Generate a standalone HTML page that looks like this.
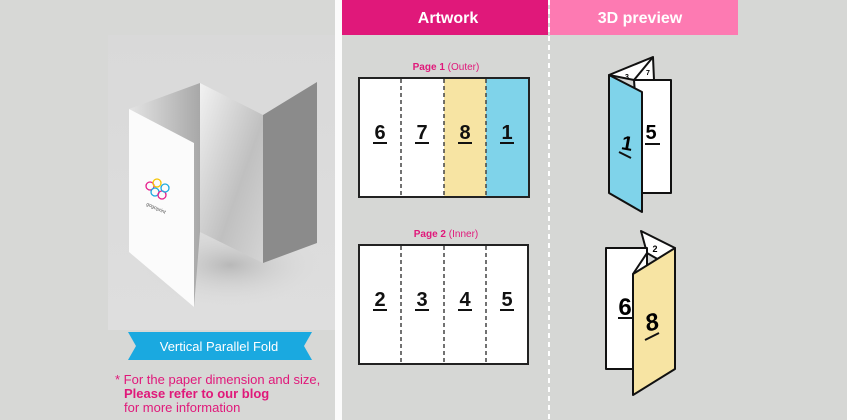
<!DOCTYPE html>
<html><head><meta charset="utf-8"><style>
body{margin:0;width:847px;height:420px;overflow:hidden;background:#d6d7d5;font-family:"Liberation Sans",sans-serif}
</style></head><body>
<svg width="847" height="420" viewBox="0 0 847 420" xmlns="http://www.w3.org/2000/svg" style="position:absolute;left:0;top:0">
<defs>
<linearGradient id="ph" x1="0" y1="0" x2="0" y2="1"><stop offset="0" stop-color="#d9d9d9"/><stop offset="1" stop-color="#dedede"/></linearGradient>
<linearGradient id="mid" x1="0" y1="0" x2="1" y2="1"><stop offset="0" stop-color="#f2f2f2"/><stop offset="0.6" stop-color="#c0c0c0"/><stop offset="1" stop-color="#d4d4d4"/></linearGradient>
<linearGradient id="back" x1="0" y1="0" x2="1" y2="0"><stop offset="0" stop-color="#e4e4e4"/><stop offset="1" stop-color="#a8a8a8"/></linearGradient>
<radialGradient id="sh" cx="0.5" cy="0.5" r="0.5"><stop offset="0" stop-color="#b8b8b8"/><stop offset="1" stop-color="#dadada" stop-opacity="0"/></radialGradient>
</defs>
<rect x="0" y="0" width="335" height="420" fill="#d7d8d6"/>
<rect x="108" y="35" width="227" height="295" fill="url(#ph)"/>
<ellipse cx="230" cy="265" rx="90" ry="40" fill="url(#sh)"/>
<polygon points="200,83 263,115 263,263 200,232" fill="url(#mid)"/>
<polygon points="129,109 200,83 200,232 194,307" fill="url(#back)"/>
<polygon points="263,115 317,82 317,243 263,263" fill="#8b8b8b"/>
<polygon points="129,109 194,143 194,307 129,252" fill="#fbfbfb"/>
<g stroke="#111" stroke-width="1.3" fill="none">
<circle cx="150" cy="186" r="4" stroke="#e61c8c"/><circle cx="157" cy="183" r="4" stroke="#f5c400"/>
<circle cx="155" cy="192" r="4" stroke="#1aa9e0"/><circle cx="162" cy="195" r="4" stroke="#e61c8c"/><circle cx="165" cy="188" r="4" stroke="#1aa9e0"/>
</g>
<text x="146" y="205" font-size="5" fill="#555" transform="rotate(25 146 205)">gogoprint</text>
<polygon points="128,332 312,332 304,346 312,360 128,360 136,346" fill="#1aa9e0"/>
<text x="219" y="351" font-size="13" fill="#fff" text-anchor="middle">Vertical Parallel Fold</text>
<text x="115" y="384" font-size="13" fill="#e0187a">* For the paper dimension and size,</text>
<text x="124" y="398" font-size="13" font-weight="bold" fill="#e0187a">Please refer to our blog</text>
<text x="124" y="412" font-size="13" fill="#e0187a">for more information</text>
<rect x="335" y="0" width="7" height="420" fill="#fbfbfb"/>
<rect x="342" y="0" width="206" height="35" fill="#e0187a"/>
<rect x="550" y="0" width="188" height="35" fill="#fd7ab2"/>
<text x="448" y="23" font-size="16" font-weight="bold" fill="#fff" text-anchor="middle">Artwork</text>
<text x="640" y="23" font-size="16" font-weight="bold" fill="#fff" text-anchor="middle">3D preview</text>
<line x1="549" y1="0" x2="549" y2="420" stroke="#fff" stroke-width="2" stroke-dasharray="5,4"/>
<text x="446" y="70" font-size="10" font-weight="bold" fill="#e0187a" text-anchor="middle">Page 1 <tspan font-weight="normal">(Outer)</tspan></text>
<rect x="359" y="78" width="170" height="119" fill="#fff"/>
<rect x="444" y="78" width="42" height="119" fill="#f7e4a3"/>
<rect x="486" y="78" width="43" height="119" fill="#7fd3ea"/>
<rect x="359" y="78" width="170" height="119" fill="none" stroke="#222" stroke-width="2"/>
<g stroke="#444" stroke-width="1.5" stroke-dasharray="4,3">
<line x1="401" y1="79" x2="401" y2="196"/><line x1="444" y1="79" x2="444" y2="196"/><line x1="486" y1="79" x2="486" y2="196"/>
</g>
<text x="446" y="237" font-size="10" font-weight="bold" fill="#e0187a" text-anchor="middle">Page 2 <tspan font-weight="normal">(Inner)</tspan></text>
<rect x="359" y="245" width="169" height="119" fill="#fff" stroke="#222" stroke-width="2"/>
<g stroke="#444" stroke-width="1.5" stroke-dasharray="4,3">
<line x1="401" y1="246" x2="401" y2="363"/><line x1="444" y1="246" x2="444" y2="363"/><line x1="486" y1="246" x2="486" y2="363"/>
</g>
<g font-size="20" font-weight="bold" fill="#111" text-anchor="middle">
<text x="380" y="139">6</text><text x="422" y="139">7</text><text x="465" y="139">8</text><text x="507" y="139">1</text>
<text x="380" y="306">2</text><text x="422" y="306">3</text><text x="465" y="306">4</text><text x="507" y="306">5</text>
</g>
<g stroke="#111" stroke-width="2">
<line x1="373" y1="143" x2="387" y2="143"/><line x1="415" y1="143" x2="429" y2="143"/><line x1="458" y1="143" x2="472" y2="143"/><line x1="500" y1="143" x2="514" y2="143"/>
<line x1="373" y1="310" x2="387" y2="310"/><line x1="415" y1="310" x2="429" y2="310"/><line x1="458" y1="310" x2="472" y2="310"/><line x1="500" y1="310" x2="514" y2="310"/>
</g>
<g stroke="#111" stroke-width="2" stroke-linejoin="round">
<polygon points="609,75 653,57 654,80 634,80" fill="#fff"/>
<polygon points="634,80 671,80 671,193 642,193" fill="#fff"/>
<polygon points="609,75 642,92 642,212 609,193" fill="#7fd3ea"/>
<line x1="634" y1="80" x2="653" y2="57"/>
</g>
<text x="627" y="79" font-size="7" font-weight="bold" text-anchor="middle">3</text>
<text x="648" y="75" font-size="7" font-weight="bold" text-anchor="middle">7</text>
<text x="651" y="139" font-size="20" font-weight="bold" text-anchor="middle">5</text>
<line x1="645" y1="144" x2="660" y2="144" stroke="#111" stroke-width="2"/>
<text x="626" y="150" font-size="20" font-weight="bold" text-anchor="middle" transform="rotate(10 626 150)">1</text>
<line x1="619" y1="152" x2="631" y2="158" stroke="#111" stroke-width="2"/>
<g stroke="#111" stroke-width="2" stroke-linejoin="round">
<polygon points="641,231 675,248 673,268 647,253" fill="#fff"/>
<polygon points="606,248 647,248 647,369 606,369" fill="#fff"/>
<polygon points="633,274 675,248 675,369 633,395" fill="#f7e4a3"/>
<polyline points="633,274 647,253 647,260" fill="none"/>
</g>
<text x="655" y="252" font-size="9" font-weight="bold" text-anchor="middle">2</text>
<text x="625" y="315" font-size="24" font-weight="bold" text-anchor="middle">6</text>
<line x1="618" y1="318" x2="633" y2="318" stroke="#111" stroke-width="2"/>
<text x="654" y="330" font-size="24" font-weight="bold" font-style="italic" text-anchor="middle" transform="rotate(-15 654 330)">8</text>
<line x1="645" y1="340" x2="659" y2="333" stroke="#111" stroke-width="2"/>
</svg>
</body></html>
